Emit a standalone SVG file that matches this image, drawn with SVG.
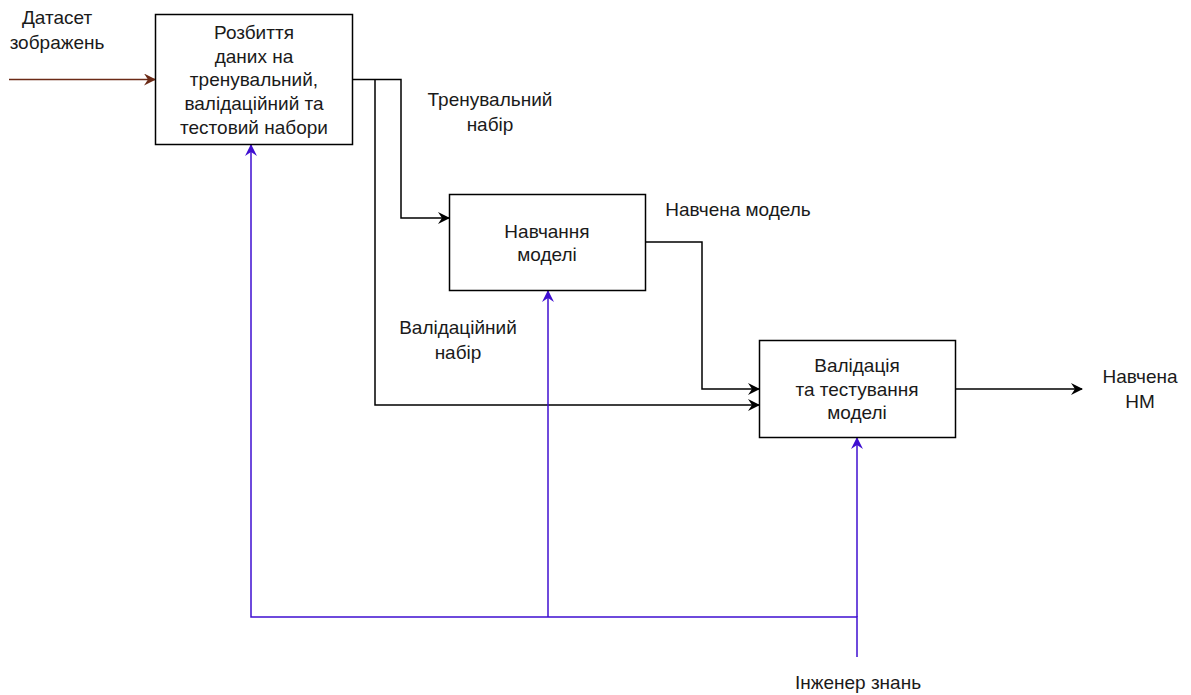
<svg xmlns="http://www.w3.org/2000/svg" width="1191" height="695" viewBox="0 0 1191 695">
<style>
text{font-family:"Liberation Sans",Arial,sans-serif;font-size:19px;fill:#1a1a1a;text-anchor:middle}
.box{fill:#fff;stroke:#000;stroke-width:1.5}
.blk{fill:none;stroke:#000;stroke-width:1.5}
.blue{fill:none;stroke:#3f0fd1;stroke-width:1.5}
.brown{fill:none;stroke:#6b2a16;stroke-width:1.5}
</style>
<defs>
<marker id="ab" viewBox="0 0 12 12" refX="11" refY="6" markerWidth="12" markerHeight="12" markerUnits="userSpaceOnUse" orient="auto"><path d="M0,0 L12,6 L0,12 L4,6 Z" fill="#000"/></marker>
<marker id="au" viewBox="0 0 12 12" refX="11" refY="6" markerWidth="12" markerHeight="12" markerUnits="userSpaceOnUse" orient="auto"><path d="M0,0 L12,6 L0,12 L4,6 Z" fill="#3f0fd1"/></marker>
<marker id="ar" viewBox="0 0 12 12" refX="11" refY="6" markerWidth="12" markerHeight="12" markerUnits="userSpaceOnUse" orient="auto"><path d="M0,0 L12,6 L0,12 L4,6 Z" fill="#6b2a16"/></marker>
</defs>
<g id="connectors">
<path class="brown" d="M9,79.5 H155" marker-end="url(#ar)"/>
<path class="blk" d="M352,79.5 H401 V218 H449" marker-end="url(#ab)"/>
<path class="blk" d="M375,79.5 V405 H759" marker-end="url(#ab)"/>
<path class="blk" d="M645,242 H702 V389 H759" marker-end="url(#ab)"/>
<path class="blk" d="M955,389 H1082" marker-end="url(#ab)"/>
<path class="blue" d="M857,657 V617 H251 V145" marker-end="url(#au)"/>
<path class="blue" d="M548,617 V291" marker-end="url(#au)"/>
<path class="blue" d="M857,617 V438" marker-end="url(#au)"/>
</g>
<g id="node-split">
<rect class="box" x="155.5" y="14.5" width="197" height="130"/>
<text x="254" y="39">Розбиття</text>
<text x="254" y="63">даних на</text>
<text x="254" y="86">тренувальний,</text>
<text x="254" y="110">валідаційний та</text>
<text x="254" y="134">тестовий набори</text>
</g>
<g id="node-train">
<rect class="box" x="449.5" y="194.5" width="196" height="96"/>
<text x="547" y="238">Навчання</text>
<text x="547" y="261">моделі</text>
</g>
<g id="node-validate">
<rect class="box" x="759.5" y="340.5" width="196" height="97"/>
<text x="857" y="372">Валідація</text>
<text x="857" y="396">та тестування</text>
<text x="857" y="419">моделі</text>
</g>
<g id="labels">
<text x="57" y="24">Датасет</text>
<text x="57" y="49">зображень</text>
<text x="490" y="106">Тренувальний</text>
<text x="490" y="131">набір</text>
<text x="738" y="216">Навчена модель</text>
<text x="458" y="334">Валідаційний</text>
<text x="458" y="359">набір</text>
<text x="1140" y="383">Навчена</text>
<text x="1140" y="408">НМ</text>
<text x="858" y="689">Інженер знань</text>
</g>
</svg>
